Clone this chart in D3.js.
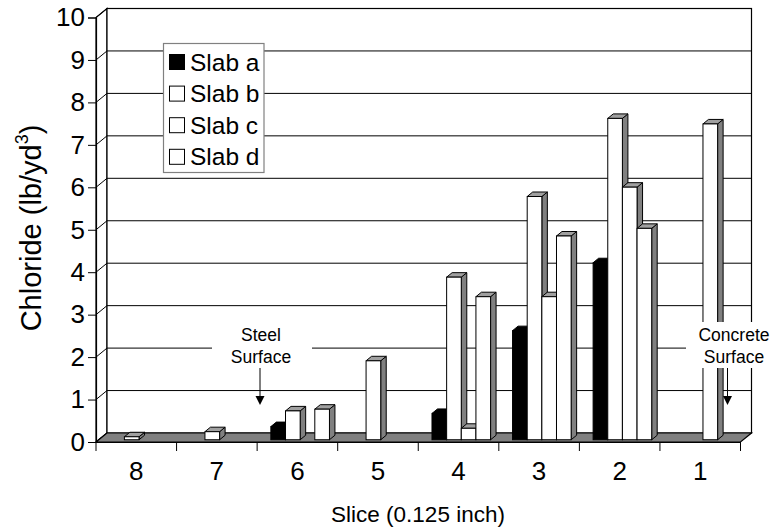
<!DOCTYPE html>
<html>
<head>
<meta charset="utf-8">
<script src="https://cdn.jsdelivr.net/npm/d3@7"></script>
<style>
  html, body { margin: 0; padding: 0; background: #fff; }
  svg { display: block; font-family: "Liberation Sans", Arial, sans-serif; }
</style>
</head>
<body>
<svg id="chart" width="772" height="531"></svg>
<script>
// Chloride content by slice depth, four slabs
const categories = ["8", "7", "6", "5", "4", "3", "2", "1"];
const seriesNames = ["Slab a", "Slab b", "Slab c", "Slab d"];
const slabA = [null, null, 0.31, null, 0.62, 2.57, 4.17, null];
const slabB = [0.07, 0.19, 0.68, 1.86, 3.83, 5.73, 7.57, null];
const slabC = [null, null, null, null, 0.27, 3.37, 5.95, 7.44];
const slabD = [null, null, 0.72, null, 3.37, 4.80, 4.98, null];
const yTicks = [0, 1, 2, 3, 4, 5, 6, 7, 8, 9, 10];
const seriesFill = ["#000000", "#ffffff", "#ffffff", "#ffffff"];

const seriesValues = [slabA, slabB, slabC, slabD];

const svg = d3.select("#chart");

// front plane of the 3D box and its depth offset
const left = 96, right = 740.5, floorY = 442;
const depthX = 11, depthY = -9;

const x = d3.scaleBand().domain(categories).range([left, right]).padding(0);
const bw = x.bandwidth();
const barW = bw / 5.5;
const xs = d3.scaleBand().domain(seriesNames)
  .range([0.75 * barW, bw - 0.75 * barW]).padding(0);
const y = d3.scaleLinear().domain([0, 10]).range([floorY, floorY - 424.5]);

// depth fraction for bar front and back faces
const f0 = 0.25, f1 = 0.75;

const g = svg.append("g");

// left side wall
g.append("path")
  .attr("d", `M${left},${y(0)} L${left},${y(10)} L${left + depthX},${y(10) + depthY} L${left + depthX},${y(0) + depthY} Z`)
  .attr("fill", "#fff").attr("stroke", "#000").attr("stroke-width", 1.2);

// back wall
g.append("rect")
  .attr("x", left + depthX).attr("y", y(10) + depthY)
  .attr("width", right - left).attr("height", y(0) - y(10))
  .attr("fill", "#fff").attr("stroke", "#000").attr("stroke-width", 1.2);

// gridlines on back wall and side wall
yTicks.filter(t => t > 0 && t < 10).forEach(t => {
  g.append("line")
    .attr("x1", left + depthX).attr("x2", right + depthX)
    .attr("y1", y(t) + depthY).attr("y2", y(t) + depthY)
    .attr("stroke", "#000").attr("stroke-width", 1);
});
yTicks.forEach(t => {
  g.append("line")
    .attr("x1", left).attr("x2", left + depthX)
    .attr("y1", y(t)).attr("y2", y(t) + depthY)
    .attr("stroke", "#000").attr("stroke-width", 1);
});

// floor
g.append("path")
  .attr("d", `M${left},${y(0)} L${right},${y(0)} L${right + depthX},${y(0) + depthY} L${left + depthX},${y(0) + depthY} Z`)
  .attr("fill", "#808080").attr("stroke", "#000").attr("stroke-width", 1.2);

// axes
const yAxis = d3.axisLeft(y).tickValues(yTicks).tickSize(8).tickFormat(d3.format("d"));
const ya = svg.append("g").attr("transform", `translate(${left},0)`).call(yAxis);
ya.select(".domain").attr("stroke", "#000").attr("stroke-width", 1.2);
ya.selectAll(".tick line").attr("stroke", "#000");
ya.selectAll(".tick text").attr("font-size", 26).attr("fill", "#000")
  .attr("font-family", "'Liberation Sans', Arial, sans-serif").attr("x", -11);

const xAxis = d3.axisBottom(x).tickSize(0).tickPadding(0);
const xa = svg.append("g").attr("transform", `translate(0,${floorY})`).call(xAxis);
xa.select(".domain").attr("stroke", "#000").attr("stroke-width", 1.2);
xa.selectAll(".tick text").attr("font-size", 26).attr("fill", "#000")
  .attr("font-family", "'Liberation Sans', Arial, sans-serif")
  .attr("y", 29).attr("dy", "0.35em");
// category boundary ticks
xa.selectAll(".bound").data(d3.range(categories.length + 1)).join("line")
  .attr("class", "bound")
  .attr("x1", i => left + i * bw).attr("x2", i => left + i * bw)
  .attr("y1", 0).attr("y2", 9).attr("stroke", "#000");

// annotation boxes and labels
function annotBox(boxX, boxW) {
  svg.append("rect").attr("x", boxX).attr("y", 322).attr("width", boxW).attr("height", 46).attr("fill", "#fff");
}
function annotText(cx, lines, arrowX) {
  const a = svg.append("g");
  lines.forEach((t, i) => {
    a.append("text").attr("x", cx).attr("y", 335 + i * 22).attr("dy", "0.35em")
      .attr("text-anchor", "middle").attr("font-size", 17.5).text(t);
  });
  a.append("line").attr("x1", arrowX).attr("x2", arrowX).attr("y1", 368).attr("y2", 398)
    .attr("stroke", "#000").attr("stroke-width", 1);
  a.append("path").attr("d", `M${arrowX - 4.5},${396} L${arrowX + 4.5},${396} L${arrowX},${405} Z`).attr("fill", "#000");
}
// the steel label sits behind the bars
annotBox(212, 100);
annotText(261, ["Steel", "Surface"], 260);

// 3D bars, drawn left to right
const bars = svg.append("g");
categories.forEach((c, ci) => {
  seriesNames.forEach((s, si) => {
    const v = seriesValues[si][ci];
    if (v == null) return;
    const x0 = x(c) + xs(s) + depthX * f0;
    const x1 = x0 + xs.bandwidth();
    const yb = y(0) + depthY * f0;
    const yt = y(v) + depthY * f0;
    const ddx = depthX * (f1 - f0), ddy = depthY * (f1 - f0);
    const fill = seriesFill[si];
    const dark = si === 0;
    const bg = bars.append("g");
    // side face
    bg.append("path")
      .attr("d", `M${x1},${yb} L${x1},${yt} L${x1 + ddx},${yt + ddy} L${x1 + ddx},${yb + ddy} Z`)
      .attr("fill", dark ? "#000" : "#808080").attr("stroke", "#000").attr("stroke-width", 1);
    // top face
    bg.append("path")
      .attr("d", `M${x0},${yt} L${x1},${yt} L${x1 + ddx},${yt + ddy} L${x0 + ddx},${yt + ddy} Z`)
      .attr("fill", dark ? "#000" : "#a0a0a0").attr("stroke", "#000").attr("stroke-width", 1);
    // front face
    bg.append("rect")
      .attr("x", x0).attr("y", yt).attr("width", x1 - x0).attr("height", yb - yt)
      .attr("fill", fill).attr("stroke", "#000").attr("stroke-width", 1);
  });
});

// concrete label overlays the bar
annotBox(686, 80);
annotText(734, ["Concrete", "Surface"], 727.5);

// legend
const lg = svg.append("g");
lg.append("rect").attr("x", 163.5).attr("y", 43.5).attr("width", 100.5).attr("height", 129)
  .attr("fill", "#fff").attr("stroke", "#808080").attr("stroke-width", 1.2);
seriesNames.forEach((s, i) => {
  const cy = 62 + i * 31.6;
  lg.append("rect").attr("x", 169.5).attr("y", cy - 7.5).attr("width", 15).attr("height", 15)
    .attr("fill", seriesFill[i]).attr("stroke", "#000").attr("stroke-width", 1);
  lg.append("text").attr("x", 190).attr("y", cy).attr("dy", "0.35em")
    .attr("font-size", 24.5).text(s);
});

// axis titles
svg.append("text").attr("x", 418).attr("y", 514).attr("dy", "0.35em")
  .attr("text-anchor", "middle").attr("font-size", 22.5).text("Slice (0.125 inch)");
const yt = svg.append("text")
  .attr("transform", "translate(31,228) rotate(-90)")
  .attr("text-anchor", "middle").attr("dy", "0.35em").attr("font-size", 29);
yt.append("tspan").text("Chloride (lb/yd");
yt.append("tspan").attr("font-size", 18).attr("dy", "-0.75em").text("3");
yt.append("tspan").attr("dy", "0.47em").text(")");
</script>
</body>
</html>
